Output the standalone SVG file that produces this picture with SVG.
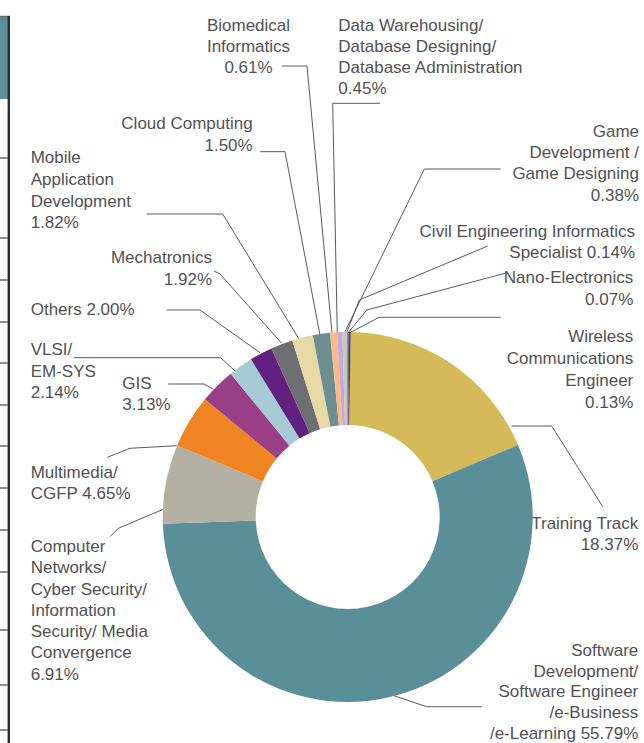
<svg xmlns="http://www.w3.org/2000/svg" width="644" height="743" viewBox="0 0 644 743">
<style>
text{font-family:"Liberation Sans",Arial,sans-serif;font-size:17px;fill:#515153}
.e{text-anchor:end}.m{text-anchor:middle}
.ld{fill:none;stroke:#5a5a5a;stroke-width:1}
.tick{stroke:#6a6a6a;stroke-width:1.5}
</style>
<rect width="644" height="743" fill="#fff"/>
<g id="table-edge">
<rect x="0" y="16" width="8" height="83" fill="#5b8f98"/>
<line x1="0" y1="16.5" x2="10" y2="16.5" stroke="#6a6a6a" stroke-width="1.5"/>
<line x1="8.8" y1="16" x2="8.8" y2="743" stroke="#2b2b2b" stroke-width="2.4"/>
<g class="tick">
<line x1="0" y1="158" x2="8" y2="158"/><line x1="0" y1="238" x2="8" y2="238"/>
<line x1="0" y1="280" x2="8" y2="280"/><line x1="0" y1="322" x2="8" y2="322"/>
<line x1="0" y1="363" x2="8" y2="363"/><line x1="0" y1="405" x2="8" y2="405"/>
<line x1="0" y1="446" x2="8" y2="446"/><line x1="0" y1="488" x2="8" y2="488"/>
<line x1="0" y1="530" x2="8" y2="530"/><line x1="0" y1="572" x2="8" y2="572"/>
<line x1="0" y1="630" x2="8" y2="630"/><line x1="0" y1="685" x2="8" y2="685"/>
<line x1="0" y1="730" x2="8" y2="730"/>
</g>
</g>
<g id="connectors">
<path class="ld" d="M282 66H307L332 333"/>
<path class="ld" d="M380 103.3H332.7L337.3 332.7"/>
<path class="ld" d="M260 151.7H285L320 335"/>
<path class="ld" d="M146.7 214H222.7L300 340.7"/>
<path class="ld" d="M214 271L220 274L281.7 343.3"/>
<path class="ld" d="M166.7 310H200L260 352.7"/>
<path class="ld" d="M74 357.7H220.7L236.7 372.7"/>
<path class="ld" d="M168.3 384H204L213.3 389.3"/>
<path class="ld" d="M107.3 457.3L130 448.3L176.7 445.7"/>
<path class="ld" d="M110 536.7L118.3 528.3L163.3 509.3"/>
<path class="ld" d="M386.7 693.3L426.7 706.7H481.7"/>
<path class="ld" d="M511.7 426H551.7L602.7 506.7"/>
<path class="ld" d="M500.7 317.3H379L350 332.7"/>
<path class="ld" d="M505 273.3L366.7 310L348.3 332.7"/>
<path class="ld" d="M487.7 246L359.3 300L346.7 332.7"/>
<path class="ld" d="M500.7 169H424.3L345 331.7"/>
</g>
<g id="training-track">
<path fill="#d4ba58" d="M350.703 332.024A185 185 0 0 1 518.063 444.878L432.421 481.134A92 92 0 0 0 349.193 425.012Z"/>
<text class="e" x="638.3" y="529">Training Track</text>
<text class="e" x="638.3" y="549.5">18.37%</text>
</g>
<g id="software-development">
<path fill="#5a8f9a" d="M518.063 444.878A185 185 0 1 1 162.827 523.847L255.763 520.405A92 92 0 1 0 432.421 481.134Z"/>
<text class="e" x="638.3" y="656">Software</text>
<text class="e" x="638.3" y="676.7">Development/</text>
<text class="e" x="638.3" y="697.3">Software Engineer</text>
<text class="e" x="638.3" y="718.3">/e-Business</text>
<text class="e" x="638.3" y="739.3">/e-Learning 55.79%</text>
</g>
<g id="computer-networks">
<path fill="#b4b1a4" d="M162.827 523.847A185 185 0 0 1 177.095 445.449L262.859 481.418A92 92 0 0 0 255.763 520.405Z"/>
<text x="30.7" y="551.7">Computer</text>
<text x="30.7" y="573.3">Networks/</text>
<text x="30.7" y="595">Cyber Security/</text>
<text x="30.7" y="616">Information</text>
<text x="30.7" y="637.3">Security/ Media</text>
<text x="30.7" y="658.3">Convergence</text>
<text x="30.7" y="680">6.91%</text>
</g>
<g id="multimedia">
<path fill="#f18422" d="M177.095 445.449A185 185 0 0 1 204.931 399.348L276.701 458.492A92 92 0 0 0 262.859 481.418Z"/>
<text x="30.7" y="478.3">Multimedia/</text>
<text x="30.7" y="499.3">CGFP 4.65%</text>
</g>
<g id="gis">
<path fill="#9a3f86" d="M204.931 399.348A185 185 0 0 1 230.668 373.72L289.501 445.747A92 92 0 0 0 276.701 458.492Z"/>
<text x="122.3" y="389.3">GIS</text>
<text x="122.3" y="410">3.13%</text>
</g>
<g id="vlsi">
<path fill="#a6cbd5" d="M230.668 373.72A185 185 0 0 1 250.93 359.327L299.577 438.59A92 92 0 0 0 289.501 445.747Z"/>
<text x="30.7" y="355">VLSI/</text>
<text x="30.7" y="376.7">EM-SYS</text>
<text x="30.7" y="398.3">2.14%</text>
</g>
<g id="others">
<path fill="#622180" d="M250.93 359.327A185 185 0 0 1 271.454 348.439L309.783 433.175A92 92 0 0 0 299.577 438.59Z"/>
<text x="30.7" y="315">Others 2.00%</text>
</g>
<g id="mechatronics">
<path fill="#6d6e71" d="M271.454 348.439A185 185 0 0 1 292.291 340.492L320.145 429.223A92 92 0 0 0 309.783 433.175Z"/>
<text class="e" x="212" y="263.3">Mechatronics</text>
<text class="e" x="212" y="285">1.92%</text>
</g>
<g id="mobile-app">
<path fill="#e6d9a5" d="M292.291 340.492A185 185 0 0 1 312.79 335.323L330.34 426.653A92 92 0 0 0 320.145 429.223Z"/>
<text x="30.7" y="163.3">Mobile</text>
<text x="30.7" y="185">Application</text>
<text x="30.7" y="206.5">Development</text>
<text x="30.7" y="227.5">1.82%</text>
</g>
<g id="cloud-computing">
<path fill="#6e8f90" d="M312.79 335.323A185 185 0 0 1 330.042 332.845L338.919 425.42A92 92 0 0 0 330.34 426.653Z"/>
<text class="e" x="252.7" y="129.3">Cloud Computing</text>
<text class="e" x="252.7" y="150.5">1.50%</text>
</g>
<g id="biomedical">
<path fill="#fbb988" d="M330.042 332.845A185 185 0 0 1 337.112 332.303L342.435 425.151A92 92 0 0 0 338.919 425.42Z"/>
<text class="m" x="248.5" y="30.7">Biomedical</text>
<text class="m" x="248.5" y="52">Informatics</text>
<text class="m" x="248.5" y="73">0.61%</text>
</g>
<g id="data-warehousing">
<path fill="#c4aad4" d="M337.112 332.303A185 185 0 0 1 342.338 332.078L345.033 425.039A92 92 0 0 0 342.435 425.151Z"/>
<text x="338.3" y="30.7">Data Warehousing/</text>
<text x="338.3" y="52">Database Designing/</text>
<text x="338.3" y="73">Database Administration</text>
<text x="338.3" y="94">0.45%</text>
</g>
<g id="game-development">
<path fill="#c5c6c8" d="M342.338 332.078A185 185 0 0 1 346.754 332.002L347.23 425.001A92 92 0 0 0 345.033 425.039Z"/>
<text class="e" x="639" y="136.7">Game</text>
<text class="e" x="639" y="157.7">Development /</text>
<text class="e" x="639" y="179.3">Game Designing</text>
<text class="e" x="639" y="200.7">0.38%</text>
</g>
<g id="civil-engineering">
<path fill="#8e9494" d="M346.754 332.002A185 185 0 0 1 348.381 332.001L348.039 425.001A92 92 0 0 0 347.23 425.001Z"/>
<text class="e" x="635" y="236.7">Civil Engineering Informatics</text>
<text class="e" x="635" y="258.3">Specialist 0.14%</text>
</g>
<g id="nano-electronics">
<path fill="#3d3d3d" d="M348.381 332.001A185 185 0 0 1 349.195 332.006L348.443 425.003A92 92 0 0 0 348.039 425.001Z"/>
<text class="e" x="633.3" y="283.3">Nano-Electronics</text>
<text class="e" x="633.3" y="305">0.07%</text>
</g>
<g id="wireless">
<path fill="#702062" d="M349.195 332.006A185 185 0 0 1 350.703 332.024L349.193 425.012A92 92 0 0 0 348.443 425.003Z"/>
<text class="e" x="633.3" y="342.3">Wireless</text>
<text class="e" x="633.3" y="364">Communications</text>
<text class="e" x="633.3" y="385.7">Engineer</text>
<text class="e" x="633.3" y="407.5">0.13%</text>
</g>
</svg>
